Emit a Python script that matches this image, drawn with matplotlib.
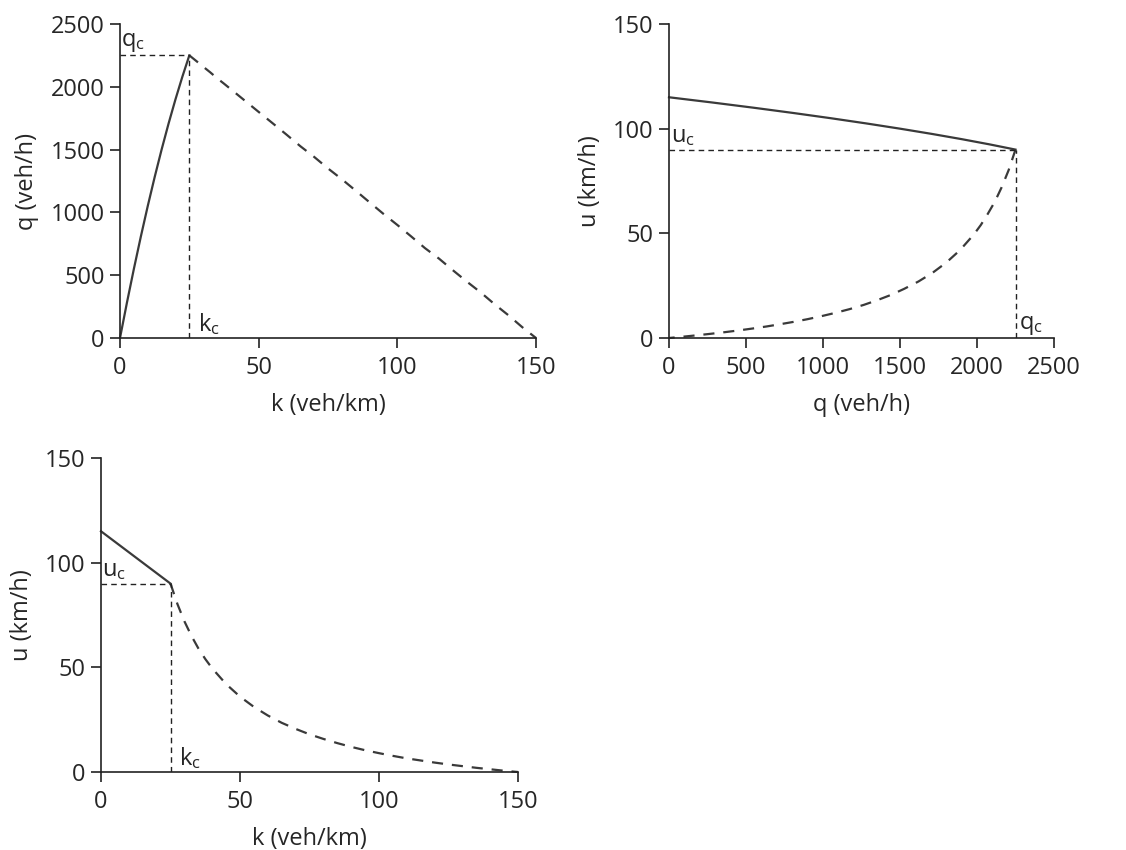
import matplotlib
matplotlib.use('Agg')
import matplotlib.pyplot as plt
import numpy as np

plt.rcParams['font.family'] = ['Open Sans', 'DejaVu Sans']
plt.rcParams['mathtext.fontset'] = 'custom'
plt.rcParams['mathtext.rm'] = 'Open Sans'
plt.rcParams['mathtext.it'] = 'Open Sans'

# free-flow branch
k_free = [0, 2.5, 5, 7.5, 10, 12.5, 15, 17.5, 20, 22.5, 25]
u_free = [115, 112.5, 110, 107.5, 105, 102.5, 100, 97.5, 95, 92.5, 90]

# congested branch
k_cong = [25, 27.5, 30, 32.5, 35, 37.5, 40, 45, 50, 55, 60, 65, 70, 75, 80, 85,
          90, 95, 100, 105, 110, 115, 120, 125, 130, 135, 140, 145, 150]
u_cong = [90, 80.2, 72, 65.1, 59.1, 54, 49.5, 42, 36, 31.1, 27, 23.5, 20.6, 18,
          15.8, 13.8, 12, 10.4, 9, 7.7, 6.5, 5.5, 4.5, 3.6, 2.8, 2, 1.3, 0.6, 0]

k_c, q_c, u_c = 25, 2250, 90

q_free = np.array(k_free) * np.array(u_free)
q_cong = np.array(k_cong) * np.array(u_cong)

tc = '#262626'
lc = '#3a3a3a'

fig = plt.figure(figsize=(11.26, 8.5), dpi=100)
W, H = 1126, 850
def box(x0, x1, y0, y1):
    return [x0 / W, (H - y0) / H, (x1 - x0) / W, (y0 - y1) / H]

ax1 = fig.add_axes(box(120, 536, 338, 24))
ax2 = fig.add_axes(box(669, 1054, 338, 24))
ax3 = fig.add_axes(box(101, 518, 772, 458))

def style(ax, xlim, ylim, xt, yt, xl, yl):
    ax.set_xlim(*xlim)
    ax.set_ylim(*ylim)
    ax.set_xticks(xt)
    ax.set_yticks(yt)
    for s in ['top', 'right']:
        ax.spines[s].set_visible(False)
    for s in ['left', 'bottom']:
        ax.spines[s].set_color('#222222')
        ax.spines[s].set_linewidth(1.2)
    ax.tick_params(direction='out', length=7, width=1.2, color='#222222',
                   labelsize=17, labelcolor=tc)
    ax.tick_params(axis='x', pad=6)
    ax.tick_params(axis='y', pad=4)
    ax.set_xlabel(xl, fontsize=17, color=tc, labelpad=9)
    ax.set_ylabel(yl, fontsize=17, color=tc, labelpad=8)

sub = lambda s: r'$\mathregular{%s_c}$' % s

# q-k
ax1.plot(k_free, q_free, color=lc, lw=1.6, clip_on=False)
ax1.plot(k_cong, q_cong, color=lc, lw=1.6, ls=(0, (5, 4)), clip_on=False)
ax1.plot([0, k_c], [q_c, q_c], color='#222222', lw=1, ls=(0, (4, 3)))
ax1.plot([k_c, k_c], [0, q_c], color='#222222', lw=1, ls=(0, (4, 3)))
ax1.text(0.5, q_c + 10, sub('q'), fontsize=17, color=tc, va='bottom', ha='left')
ax1.text(28, 5, sub('k'), fontsize=17, color=tc, va='bottom', ha='left')
style(ax1, (0, 150), (0, 2500), [0, 50, 100, 150], [0, 500, 1000, 1500, 2000, 2500],
      'k (veh/km)', 'q (veh/h)')

# u-q
ax2.plot(q_free, u_free, color=lc, lw=1.6, clip_on=False)
ax2.plot(q_cong, u_cong, color=lc, lw=1.6, ls=(0, (5, 4)), clip_on=False)
ax2.plot([0, q_c], [u_c, u_c], color='#222222', lw=1, ls=(0, (4, 3)))
ax2.plot([q_c, q_c], [0, u_c], color='#222222', lw=1, ls=(0, (4, 3)))
ax2.text(10, u_c + 0.5, sub('u'), fontsize=17, color=tc, va='bottom', ha='left')
ax2.text(q_c + 20, 0.5, sub('q'), fontsize=17, color=tc, va='bottom', ha='left')
style(ax2, (0, 2500), (0, 150), [0, 500, 1000, 1500, 2000, 2500], [0, 50, 100, 150],
      'q (veh/h)', 'u (km/h)')

# u-k
ax3.plot(k_free, u_free, color=lc, lw=1.6, clip_on=False)
ax3.plot(k_cong, u_cong, color=lc, lw=1.6, ls=(0, (5, 4)), clip_on=False)
ax3.plot([0, k_c], [u_c, u_c], color='#222222', lw=1, ls=(0, (4, 3)))
ax3.plot([k_c, k_c], [0, u_c], color='#222222', lw=1, ls=(0, (4, 3)))
ax3.text(0.5, u_c + 0.5, sub('u'), fontsize=17, color=tc, va='bottom', ha='left')
ax3.text(28, 0.5, sub('k'), fontsize=17, color=tc, va='bottom', ha='left')
style(ax3, (0, 150), (0, 150), [0, 50, 100, 150], [0, 50, 100, 150],
      'k (veh/km)', 'u (km/h)')

fig.savefig('out.png', dpi=100)
